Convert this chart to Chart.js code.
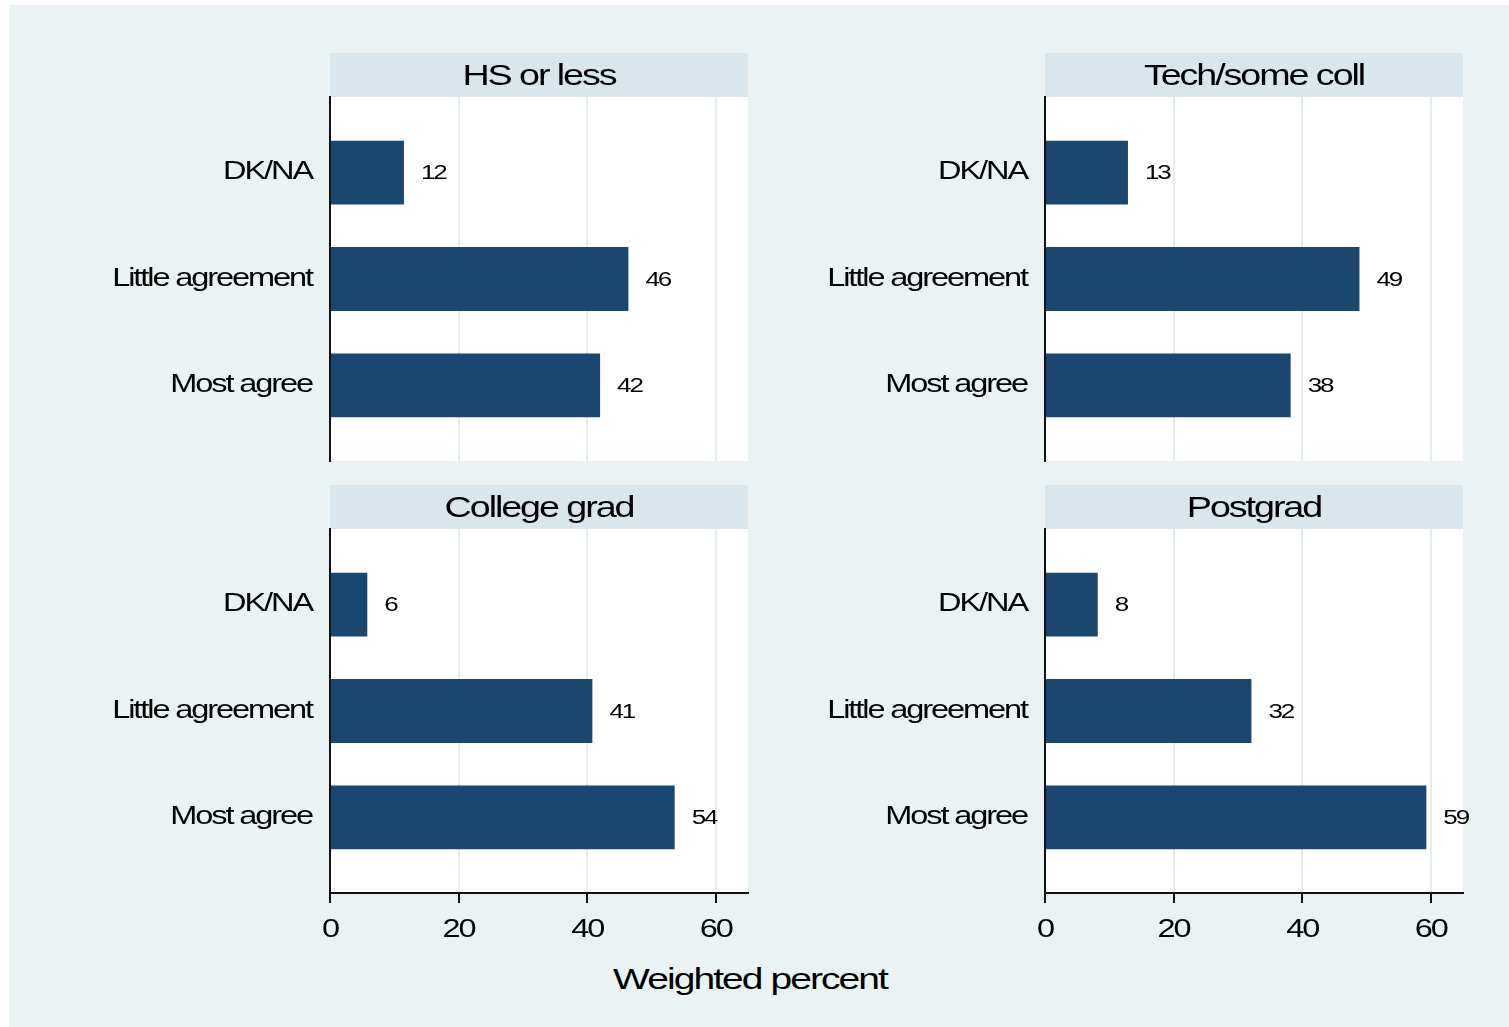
<!DOCTYPE html>
<html>
<head>
<meta charset="utf-8">
<script src="https://cdn.jsdelivr.net/npm/chart.js@4.4.1/dist/chart.umd.min.js"></script>
<style>
  html, body { margin: 0; padding: 0; background: #fff; }
  #page { position: relative; width: 1509px; height: 1027px; overflow: hidden; }
  #bg { position: absolute; left: 9px; top: 5px; right: 0; bottom: 0; background: #eaf2f3; }
  canvas { position: absolute; }
  #xtitle {
    position: absolute; left: 450px; width: 600px; top: 962px; text-align: center;
    font: 30px 'Liberation Sans', Arial, sans-serif; letter-spacing: -1.5px;
    transform: scaleX(1.3); color: #000;
  }
</style>
</head>
<body>
<div id="page">
  <div id="bg"></div>
  <canvas id="c0" width="750" height="490" style="left:10px;top:40px"></canvas>
  <canvas id="c1" width="740" height="490" style="left:760px;top:40px"></canvas>
  <canvas id="c2" width="750" height="490" style="left:10px;top:472px"></canvas>
  <canvas id="c3" width="740" height="490" style="left:760px;top:472px"></canvas>
  <div id="xtitle">Weighted percent</div>
</div>
<script>
// data
const categories = ['DK/NA', 'Little agreement', 'Most agree'];
const panelTitles = ['HS or less', 'Tech/some coll', 'College grad', 'Postgrad'];
const hsOrLess = [11.5, 46.4, 42.0];
const techSomeColl = [12.9, 48.9, 38.2];
const collegeGrad = [5.8, 40.8, 53.6];
const postgrad = [8.2, 32.1, 59.3];
const xTicks = [0, 20, 40, 60];

const panelValues = [hsOrLess, techSomeColl, collegeGrad, postgrad];

const FONT = "'Liberation Sans', Arial, sans-serif";
const BAR = '#1a476f';
const STRIP = '#d9e6eb';
const GRID = '#e4edf0';
const SX = 1.3; // stata-ish wide lettering

// wide, tight text like the original export
function stretchText(canvas) {
  const ctx = canvas.getContext('2d');
  const fill = ctx.fillText;
  ctx.fillText = function (text, x, y) {
    this.save();
    this.letterSpacing = '-1.6px';
    this.translate(x, y);
    this.scale(SX, 1);
    fill.call(this, text, 0, 0);
    this.restore();
  };
}

// white plot region + title strip
const panelBg = {
  id: 'panelBg',
  beforeDraw(chart) {
    const {ctx, chartArea: a, titleBlock: t} = chart;
    ctx.save();
    ctx.fillStyle = STRIP;
    ctx.fillRect(a.left, t.top, a.right - a.left, t.bottom - t.top);
    ctx.fillStyle = '#fff';
    ctx.fillRect(a.left, a.top, a.right - a.left, a.bottom - a.top);
    ctx.restore();
  }
};

// value labels to the right of bars
const barLabels = {
  id: 'barLabels',
  afterDatasetsDraw(chart) {
    const ctx = chart.ctx;
    const vals = chart.data.datasets[0].data;
    ctx.save();
    ctx.font = '20px ' + FONT;
    ctx.fillStyle = '#000';
    ctx.textAlign = 'left';
    ctx.textBaseline = 'middle';
    chart.getDatasetMeta(0).data.forEach((bar, i) => {
      ctx.fillText(String(Math.round(vals[i].x)), bar.x + 17, bar.y + 1);
    });
    ctx.restore();
  }
};

function makePanel(i) {
  const isRight = i % 2 === 1;
  const isBottom = i >= 2;
  const canvas = document.getElementById('c' + i);
  const yWidth = isRight ? 285 : 320;
  const rightPad = canvas.width - yWidth - 418;

  stretchText(canvas);

  new Chart(canvas, {
    type: 'bar',
    data: {
      datasets: [{
        data: panelValues[i].map((v, k) => ({x: v, y: k})),
        backgroundColor: BAR,
        borderWidth: 0,
        barPercentage: 0.6,
        categoryPercentage: 1
      }]
    },
    options: {
      indexAxis: 'y',
      responsive: false,
      animation: false,
      events: [],
      layout: {padding: {top: 13, left: 0, right: rightPad, bottom: isBottom ? 9 : 69}},
      plugins: {
        legend: {display: false},
        tooltip: {enabled: false},
        title: {
          display: true,
          text: panelTitles[i],
          fullSize: false,
          color: '#000',
          font: {family: FONT, size: 29, weight: 'normal', lineHeight: 1},
          padding: {top: 9.5, bottom: 5.5}
        }
      },
      scales: {
        y: {
          type: 'linear',
          reverse: true,
          offset: false,
          min: -0.71,
          max: 2.71,
          afterBuildTicks: s => { s.ticks = categories.map((c, k) => ({value: k})); },
          afterFit: s => { s.width = yWidth; },
          grid: {display: false, drawTicks: false, offset: false},
          border: {display: true, color: '#111', width: 2},
          ticks: {
            padding: 18,
            color: '#000',
            font: {family: FONT, size: 25},
            callback: v => categories[v]
          }
        },
        x: {
          type: 'linear',
          min: 0,
          max: 65,
          afterBuildTicks: s => { s.ticks = xTicks.map(v => ({value: v})); },
          afterFit: s => { s.height = isBottom ? 60 : 0; },
          grid: {
            color: ctx => (ctx.tick && ctx.tick.value === 0) ? 'rgba(0,0,0,0)' : GRID,
            lineWidth: 2,
            drawTicks: isBottom,
            tickLength: 10,
            tickColor: '#111',
            tickWidth: 2
          },
          border: {display: isBottom, color: '#111', width: 2},
          ticks: {
            display: isBottom,
            padding: 12,
            color: '#000',
            font: {family: FONT, size: 25}
          }
        }
      }
    },
    plugins: [panelBg, barLabels]
  });
}

[0, 1, 2, 3].forEach(makePanel);
</script>
</body>
</html>
